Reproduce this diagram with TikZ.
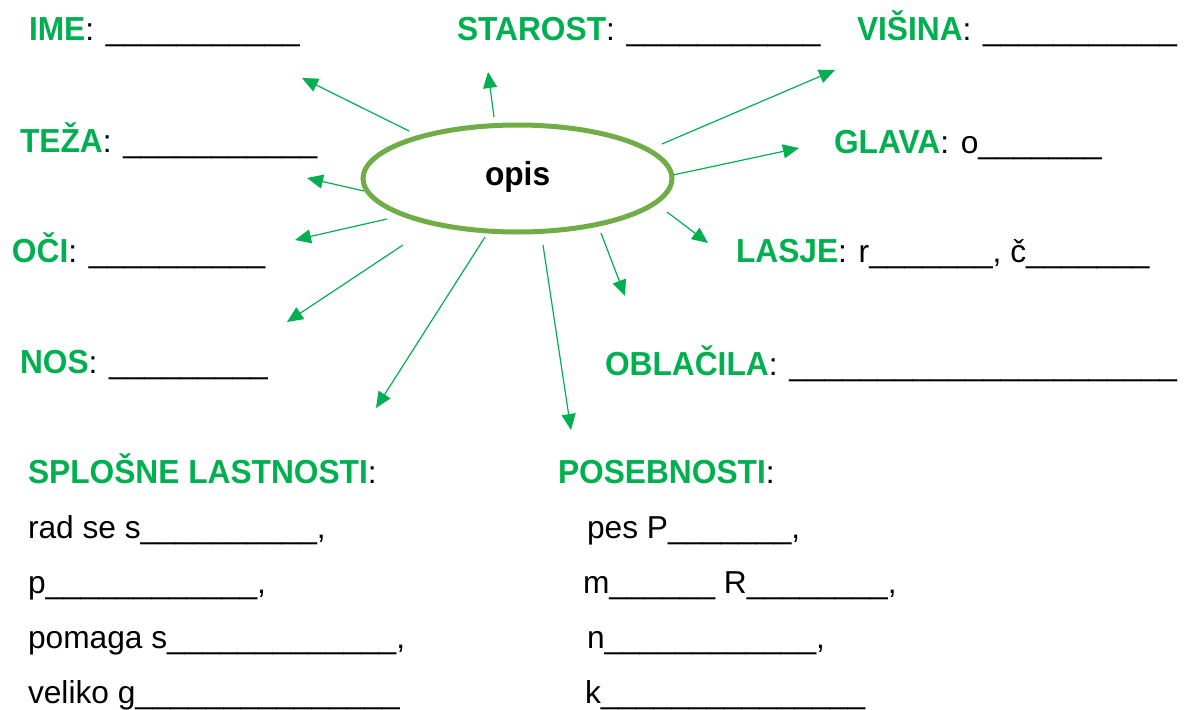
\documentclass[tikz,border=0pt]{standalone}
\usepackage{fontspec}
\setmainfont{Liberation Sans}[BoldFont={Liberation Sans Bold}]
\usepackage{graphicx}
\usetikzlibrary{arrows.meta,shapes.geometric}
\definecolor{hgreen}{HTML}{00B050}
\definecolor{ringgreen}{HTML}{70AD47}
\newcommand{\hd}[1]{\scalebox{1}[1.05]{\bfseries\color{hgreen}#1}}
\tikzset{
  lbl/.style={anchor=base west, inner sep=0pt, outer sep=0pt, font=\fontsize{31.7}{31.7}\selectfont},
  arr/.style={-{Triangle[length=16pt,width=14pt]}, draw=hgreen, line width=1.2pt},
  ring/.style={ellipse, draw=ringgreen, line width=5pt, minimum width=309pt, minimum height=107pt, inner sep=0pt}
}
\begin{document}
\catcode`\_=12
\begin{tikzpicture}[x=1pt,y=-1pt]
\useasboundingbox[fill=white] (0,0) rectangle (1190,709);

\node[ring] (opis) at (517.5,178.5) {};
\node[lbl] (opist) at (485,185) {\scalebox{1}[1.05]{\bfseries opis}};

% top row
\node[lbl] (ime) at (29,41) {\hd{IME}: ___________};
\node[lbl] (starost) at (457,41) {\hd{STAROST}: ___________};
\node[lbl] (visina) at (857,41) {\hd{VIŠINA}: ___________};
% second row
\node[lbl] (teza) at (20,152) {\hd{TEŽA}: ___________};
\node[lbl] (glava) at (834,153) {\hd{GLAVA}: o_______};
% third row
\node[lbl] (oci) at (12,262) {\hd{OČI}: __________};
\node[lbl] (lasje) at (736,262) {\hd{LASJE}: r_______, č_______};
% fourth row
\node[lbl] (nos) at (20,373) {\hd{NOS}: _________};
\node[lbl] (oblacila) at (605,375) {\hd{OBLAČILA}: ______________________};
% headings
\node[lbl] (splosne) at (28,483) {\hd{SPLOŠNE LASTNOSTI}:};
\node[lbl] (posebnosti) at (558,483) {\hd{POSEBNOSTI}:};
% left list
\node[lbl] (l1) at (28,538) {rad se s__________,};
\node[lbl] (l2) at (28,593) {p____________,};
\node[lbl] (l3) at (28,648) {pomaga s_____________,};
\node[lbl] (l4) at (28,703) {veliko g_______________};
% right list
\node[lbl] (r1) at (587,538) {pes P_______,};
\node[lbl] (r2) at (583,593) {m______ R________,};
\node[lbl] (r3) at (587,648) {n____________,};
\node[lbl] (r4) at (585,703) {k_______________};

% arrows
\coordinate (s1) at (409,131); \coordinate (e1) at (302,78);
\coordinate (s2) at (494,117); \coordinate (e2) at (488,72);
\coordinate (s3) at (662,144); \coordinate (e3) at (835,70);
\coordinate (s4) at (673,175); \coordinate (e4) at (799,148);
\coordinate (s5) at (667,212); \coordinate (e5) at (708,243);
\coordinate (s6) at (364,191); \coordinate (e6) at (307,178);
\coordinate (s7) at (387,219); \coordinate (e7) at (295,240);
\coordinate (s8) at (403,245); \coordinate (e8) at (287,322);
\coordinate (s9) at (485,237); \coordinate (e9) at (376,408);
\coordinate (s10) at (543,245); \coordinate (e10) at (571,430);
\coordinate (s11) at (601,233); \coordinate (e11) at (625,296);
\foreach \i in {1,...,11} { \draw[arr] (s\i) -- (e\i); }
\end{tikzpicture}
\end{document}
